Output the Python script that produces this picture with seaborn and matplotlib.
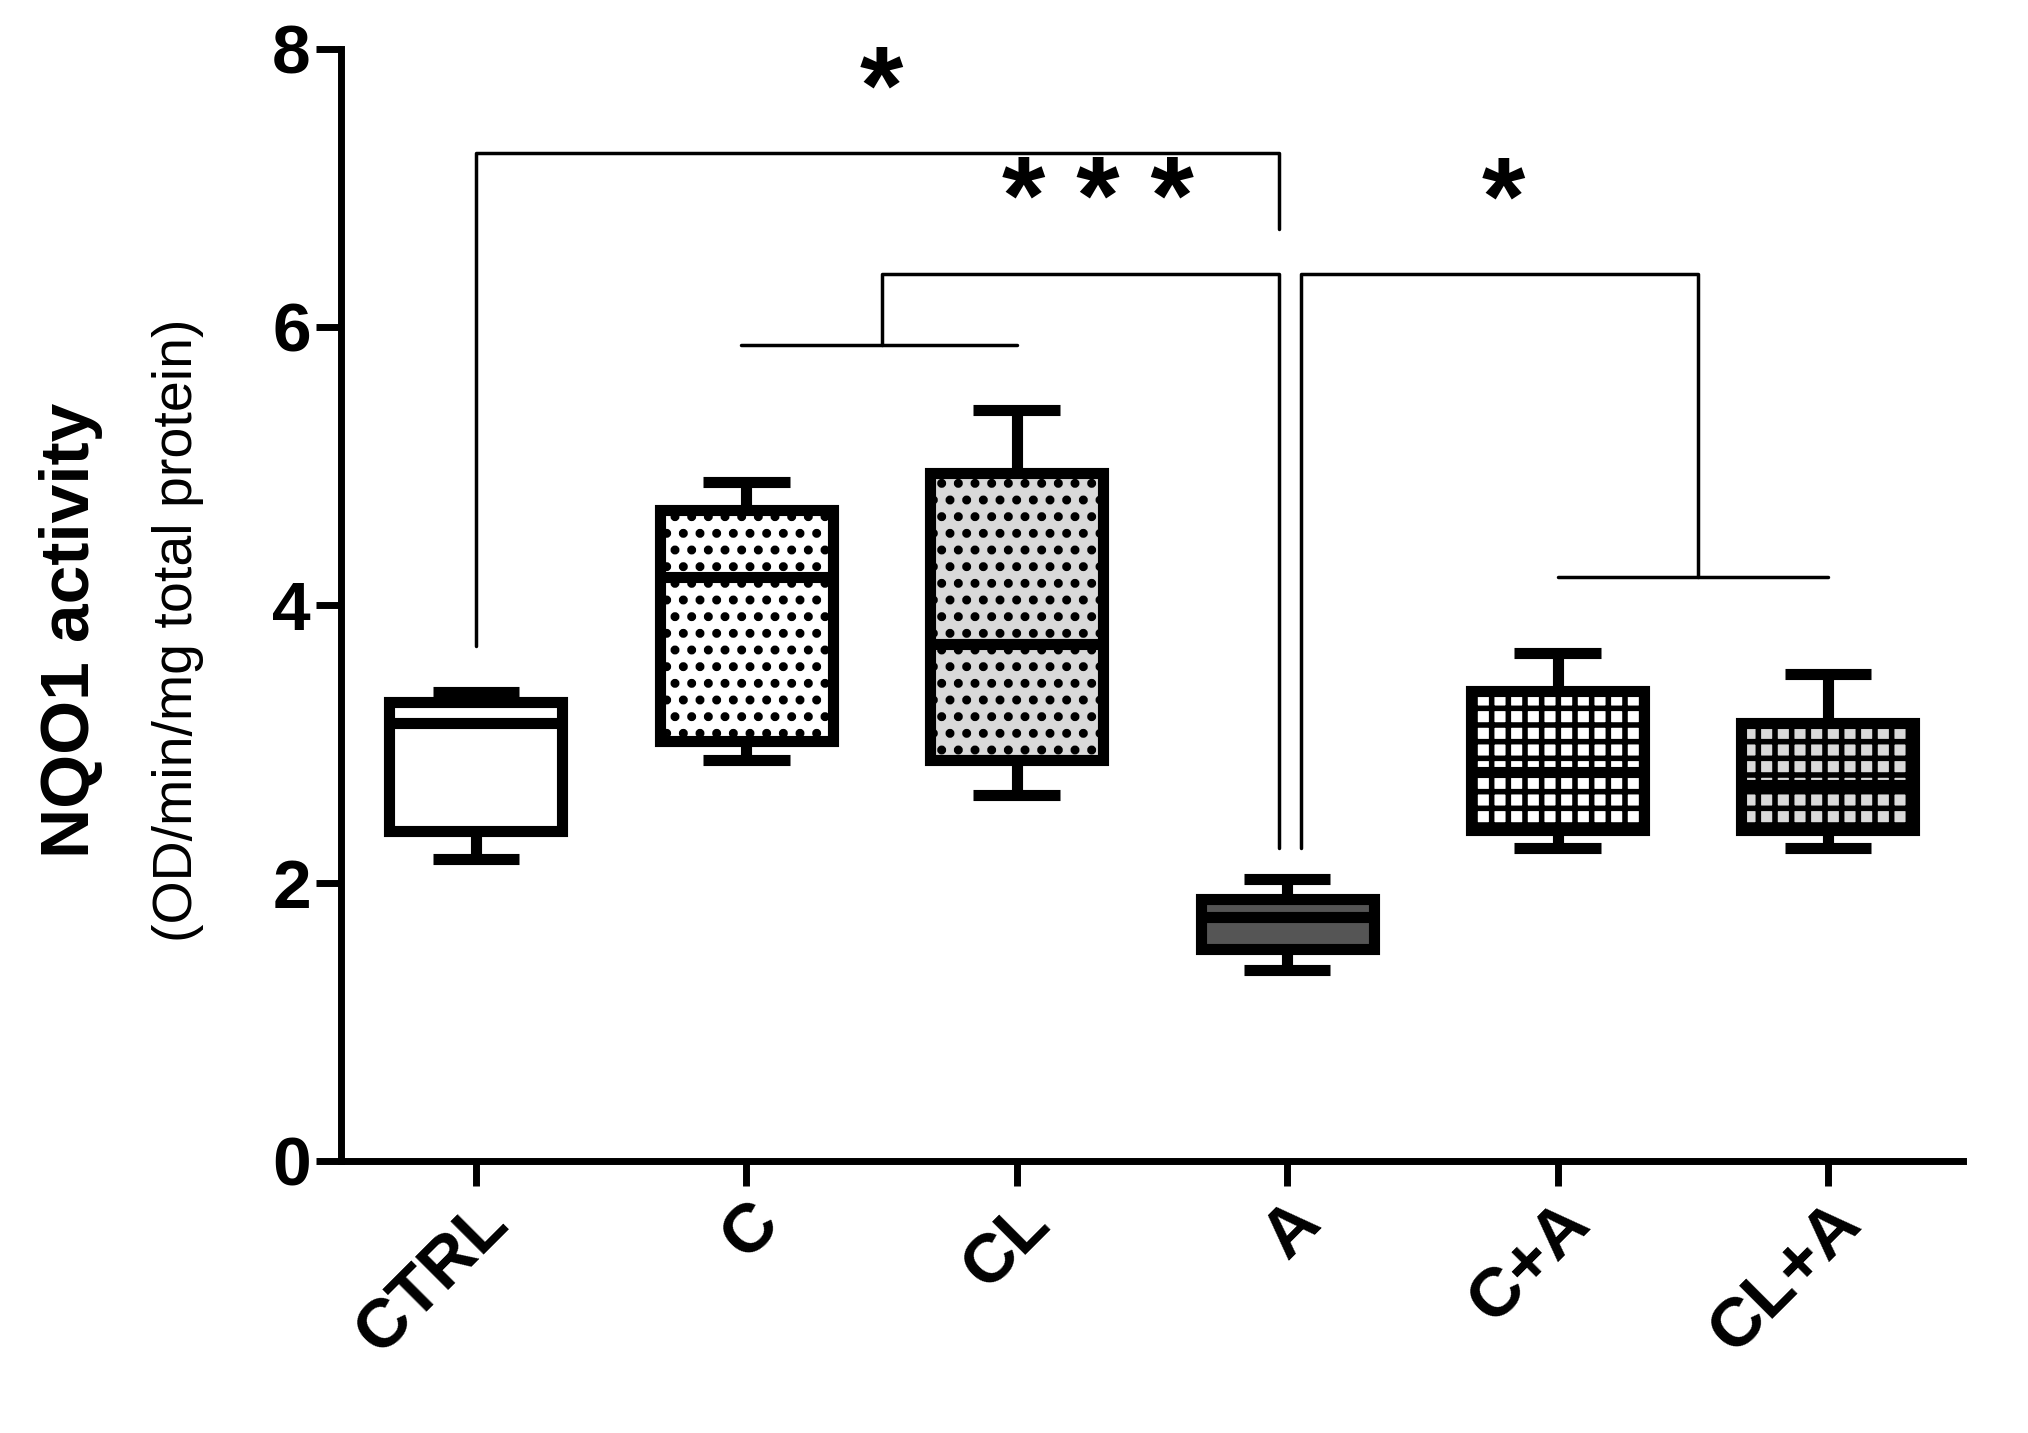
import matplotlib
matplotlib.use("Agg")
import matplotlib.pyplot as plt
import seaborn as sns
import pandas as pd

groups = ["CTRL", "C", "CL", "A", "C+A", "CL+A"]
# five-number summaries: min, q1, median, q3, max
ctrl = [2.17, 2.37, 3.15, 3.30, 3.37]
c = [2.88, 3.02, 4.20, 4.68, 4.88]
cl = [2.63, 2.88, 3.72, 4.95, 5.40]
a = [1.37, 1.52, 1.75, 1.88, 2.03]
ca = [2.25, 2.38, 2.80, 3.38, 3.65]
cla = [2.25, 2.38, 2.70, 3.15, 3.50]
values = [ctrl, c, cl, a, ca, cla]
fills = ["white", "white", "#d9d9d9", "#555555", "white", "#d9d9d9"]
hatches = [None, ".", ".", None, "+", "+"]

sns.set_style("ticks")
plt.rcParams["font.family"] = ["Liberation Sans", "DejaVu Sans"]
plt.rcParams["hatch.linewidth"] = 4
for k in ["text.color", "axes.labelcolor", "xtick.color", "ytick.color", "axes.edgecolor"]:
    plt.rcParams[k] = "black"

df = pd.DataFrame({"group": [g for g, v in zip(groups, values) for _ in v],
                   "value": [x for v in values for x in v]})

fig = plt.figure(figsize=(20.28, 14.33), dpi=100)
ax = fig.add_axes([0.168, 0.19, 0.8, 0.776])
sns.boxplot(data=df, x="group", y="value", order=groups, whis=(0, 100), width=0.64,
            linewidth=8, color="white", linecolor="black", ax=ax, showcaps=True)
for i, p in enumerate(ax.patches):
    p.set_facecolor(fills[i])
    if hatches[i]:
        p.set_hatch(hatches[i])
for ln in ax.lines:
    ln.set_solid_capstyle("butt")

ax.set_ylim(0, 8)
ax.set_xlim(-0.5, 5.5)
ax.set_yticks([0, 2, 4, 6, 8])
sns.despine(ax=ax)
for s in ["left", "bottom"]:
    ax.spines[s].set_linewidth(5)
ax.tick_params(width=5, length=18, labelsize=50, colors="black")
for t in ax.get_yticklabels():
    t.set_fontweight("bold")
ax.set_xticks(range(6))
ax.set_xticklabels(groups, rotation=45, ha="right", rotation_mode="anchor",
                   fontsize=50, fontweight="bold")
ax.set_xlabel("")
ax.set_ylabel("")
fig.text(0.035, 0.56, "NQO1 activity", rotation=90, fontsize=50, fontweight="bold",
         ha="center", va="center")
fig.text(0.088, 0.56, "(OD/min/mg total protein)", rotation=90, fontsize=40,
         ha="center", va="center")

kw = dict(color="black", lw=2.5, clip_on=False)
ax.plot([0, 0, 2.97, 2.97], [3.7, 7.25, 7.25, 6.7], **kw)
ax.text(1.5, 7.3, "*", fontsize=80, fontweight="bold", ha="center", va="bottom")
ax.plot([0.98, 2.0], [5.87, 5.87], **kw)
ax.plot([1.5, 1.5, 2.97, 2.97], [5.87, 6.38, 6.38, 2.25], **kw)
ax.text(2.3, 6.5, "* * *", fontsize=80, fontweight="bold", ha="center", va="bottom")
ax.plot([3.05, 3.05, 4.52, 4.52], [2.25, 6.38, 6.38, 4.2], **kw)
ax.plot([4.0, 5.0], [4.2, 4.2], **kw)
ax.text(3.8, 6.5, "*", fontsize=80, fontweight="bold", ha="center", va="bottom")

fig.savefig("out.png", dpi=100)
